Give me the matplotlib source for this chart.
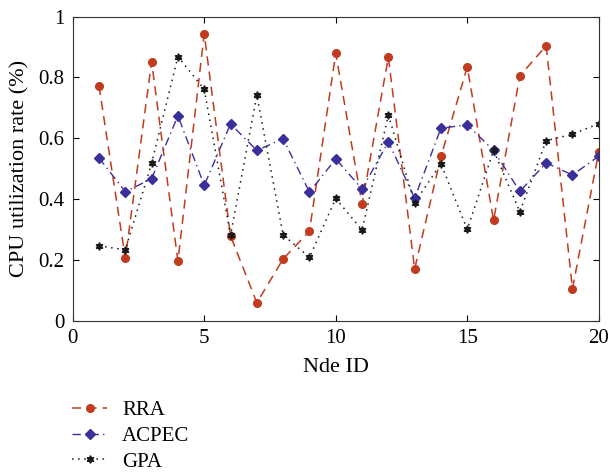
import matplotlib

matplotlib.use("Agg")
import matplotlib.pyplot as plt  # noqa: E402
import numpy as np  # noqa: E402

node_id = np.arange(1, 21)
rra = [0.772, 0.205, 0.851, 0.196, 0.943, 0.279, 0.059, 0.203, 0.294, 0.879,
       0.383, 0.866, 0.170, 0.540, 0.834, 0.330, 0.805, 0.904, 0.105, 0.555]
acpec = [0.535, 0.424, 0.467, 0.674, 0.445, 0.647, 0.560, 0.598, 0.423, 0.532,
         0.433, 0.588, 0.403, 0.633, 0.644, 0.560, 0.425, 0.519, 0.479, 0.541]
gpa = [0.246, 0.233, 0.518, 0.868, 0.761, 0.281, 0.741, 0.282, 0.208, 0.402,
       0.298, 0.676, 0.388, 0.516, 0.300, 0.560, 0.358, 0.592, 0.613, 0.648]

RED = "#c23b1e"
BLUE = "#3b2f9c"
BLACK = "#1a1a1a"

plt.rcParams["font.family"] = ["Liberation Serif", "DejaVu Serif"]

fig = plt.figure(figsize=(6.11, 4.73), dpi=100)
ax = fig.add_axes([0.119, 0.322, 0.861, 0.643])

ax.plot(node_id, rra, color=RED, linestyle=(0, (6, 4)), linewidth=1.1,
        marker="o", markersize=5.5, label="RRA")
ax.plot(node_id, acpec, color=BLUE, linestyle=(0, (6, 3, 1, 3)), linewidth=1.0,
        marker="D", markersize=5, label="ACPEC")
ax.plot(node_id, gpa, color=BLACK, linestyle=(0, (1, 3)), linewidth=1.1,
        marker=(6, 1, 0), markersize=5.5, label="GPA")

ax.set_xlim(0, 20)
ax.set_ylim(0, 1)
ax.set_xticks([0, 5, 10, 15, 20])
ax.set_yticks([0, 0.2, 0.4, 0.6, 0.8, 1])
ax.set_yticklabels(["0", "0.2", "0.4", "0.6", "0.8", "1"])
ax.tick_params(direction="in", top=True, right=True, labelsize=15, length=4, pad=6)
ax.set_xlabel("Nde ID", fontsize=16, labelpad=7)
ax.set_ylabel("CPU utilization rate (%)", fontsize=16, labelpad=6)
for s in ax.spines.values():
    s.set_color("#333333")

fig.legend(loc="upper left", bbox_to_anchor=(0.087, 0.193), frameon=False,
           fontsize=15, handlelength=1.7, labelspacing=0.3, handletextpad=0.7)

fig.savefig("out.png", dpi=100, facecolor="white")
